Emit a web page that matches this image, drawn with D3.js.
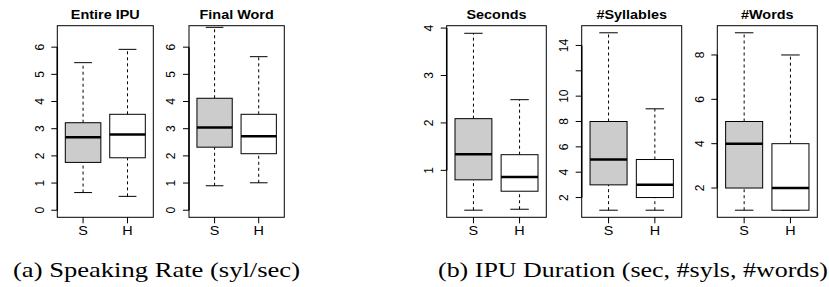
<!DOCTYPE html>
<html>

<head>
    <meta charset="UTF-8">
    <style>
        body {
            margin: 0;
            background-color: #fff;
        }

        .chart text {
            font-family: "Liberation Sans", Arial, sans-serif;
            fill: #000;
        }

        .chart .caption {
            font-family: "Liberation Serif", "Times New Roman", serif;
        }
    </style>
    <title>Boxplots</title>
</head>

<body>
    <svg class="chart" id="d3chart" width="829" height="287"></svg>

    <script src="https://d3js.org/d3.v7.min.js"></script>
    <script>
        // panels, left to right
        const panelTitles = ["Entire IPU", "Final Word", "Seconds", "#Syllables", "#Words"];
        const groups = ["S", "H"];

        // five-number boxes per group: [low whisker, Q1, median, Q3, high whisker]
        const entireS = [0.65, 1.76, 2.69, 3.22, 5.43];
        const entireH = [0.51, 1.93, 2.79, 3.53, 5.92];
        const finalS = [0.90, 2.32, 3.04, 4.12, 6.73];
        const finalH = [1.01, 2.08, 2.72, 3.53, 5.65];
        const secondsS = [0.16, 0.80, 1.34, 2.09, 3.89];
        const secondsH = [0.18, 0.56, 0.86, 1.33, 2.49];
        const syllablesS = [1, 3, 5, 8, 15];
        const syllablesH = [1, 2, 3, 5, 9];
        const wordsS = [1, 2, 4, 5, 9];
        const wordsH = [1, 1, 2, 4, 8];

        // y ticks and which of them carry a label
        const ticksRate = [0, 1, 2, 3, 4, 5, 6];
        const ticksSeconds = [1, 2, 3, 4];
        const ticksSyllables = [2, 4, 6, 8, 10, 12, 14];
        const labelsSyllables = [2, 4, 6, 8, 10, 14];
        const ticksWords = [2, 4, 6, 8];

        const captions = ["(a) Speaking Rate (syl/sec)", "(b) IPU Duration (sec, #syls, #words)"];

        const panels = [
            { title: panelTitles[0], boxes: [entireS, entireH], ticks: ticksRate, labels: ticksRate, domain: [-0.26, 6.79], left: 57.3, right: 153.3 },
            { title: panelTitles[1], boxes: [finalS, finalH], ticks: ticksRate, labels: ticksRate, domain: [-0.26, 6.79], left: 189, right: 284.3 },
            { title: panelTitles[2], boxes: [secondsS, secondsH], ticks: ticksSeconds, labels: ticksSeconds, domain: [0.01, 4.05], left: 446.7, right: 546.3 },
            { title: panelTitles[3], boxes: [syllablesS, syllablesH], ticks: ticksSyllables, labels: labelsSyllables, domain: [0.44, 15.56], left: 581.7, right: 681.7 },
            { title: panelTitles[4], boxes: [wordsS, wordsH], ticks: ticksWords, labels: ticksWords, domain: [0.68, 9.32], left: 717.3, right: 817.3 }
        ];

        const plotTop = 25.7, plotBottom = 217.3;
        const fills = ["#cccccc", "#ffffff"];
        const stretch = 1.2;   // the sans text in the picture is a bit wide

        const svg = d3.select("#d3chart");

        // widen a text element horizontally
        function widen(sel, factor) {
            sel.each(function () {
                const len = this.getComputedTextLength();
                d3.select(this)
                    .attr("textLength", len * factor)
                    .attr("lengthAdjust", "spacingAndGlyphs");
            });
        }

        panels.forEach(p => {
            const y = d3.scaleLinear().domain(p.domain).range([plotBottom, plotTop]);
            const x = d3.scaleLinear().domain([0.42, 2.58]).range([p.left, p.right]);
            const g = svg.append("g");

            // boxes
            p.boxes.forEach((b, i) => {
                const c = i + 1;
                const [lo, q1, med, q3, hi] = b;
                const bg = g.append("g");

                bg.append("line")
                    .attr("x1", x(c)).attr("x2", x(c))
                    .attr("y1", y(q3)).attr("y2", y(hi))
                    .attr("stroke", "#000").attr("stroke-dasharray", "3,3");
                bg.append("line")
                    .attr("x1", x(c)).attr("x2", x(c))
                    .attr("y1", y(lo)).attr("y2", y(q1))
                    .attr("stroke", "#000").attr("stroke-dasharray", "3,3");

                [lo, hi].forEach(v => {
                    bg.append("line")
                        .attr("x1", x(c - 0.2)).attr("x2", x(c + 0.2))
                        .attr("y1", y(v)).attr("y2", y(v))
                        .attr("stroke", "#000");
                });

                bg.append("rect")
                    .attr("x", x(c - 0.4))
                    .attr("y", y(q3))
                    .attr("width", x(c + 0.4) - x(c - 0.4))
                    .attr("height", y(q1) - y(q3))
                    .attr("fill", fills[i])
                    .attr("stroke", "#000");

                bg.append("line")
                    .attr("x1", x(c - 0.4)).attr("x2", x(c + 0.4))
                    .attr("y1", y(med)).attr("y2", y(med))
                    .attr("stroke", "#000").attr("stroke-width", 2.5);
            });

            // frame
            g.append("rect")
                .attr("x", p.left).attr("y", plotTop)
                .attr("width", p.right - p.left).attr("height", plotBottom - plotTop)
                .attr("fill", "none").attr("stroke", "#000");

            // y axis
            const yAxis = g.append("g");
            yAxis.append("line")
                .attr("x1", p.left).attr("x2", p.left)
                .attr("y1", y(d3.min(p.ticks))).attr("y2", y(d3.max(p.ticks)))
                .attr("stroke", "#000").attr("stroke-width", 1.5);
            yAxis.selectAll(".tick")
                .data(p.ticks)
                .join("line")
                .attr("class", "tick")
                .attr("x1", p.left - 6).attr("x2", p.left)
                .attr("y1", d => y(d)).attr("y2", d => y(d))
                .attr("stroke", "#000");
            yAxis.selectAll("text")
                .data(p.labels)
                .join("text")
                .attr("transform", d => `translate(${p.left - 13.6},${y(d)}) rotate(-90)`)
                .attr("text-anchor", "middle")
                .style("font-size", "12px")
                .text(d => d);

            // x axis
            const xAxis = g.append("g");
            xAxis.selectAll("line")
                .data(groups)
                .join("line")
                .attr("x1", (d, i) => x(i + 1)).attr("x2", (d, i) => x(i + 1))
                .attr("y1", plotBottom).attr("y2", plotBottom + 6)
                .attr("stroke", "#000");
            xAxis.selectAll("text")
                .data(groups)
                .join("text")
                .attr("x", (d, i) => x(i + 1))
                .attr("y", 234.7)
                .attr("text-anchor", "middle")
                .style("font-size", "12px")
                .text(d => d)
                .call(widen, stretch);

            // title
            g.append("text")
                .attr("x", (p.left + p.right) / 2)
                .attr("y", 19)
                .attr("text-anchor", "middle")
                .style("font-size", "12px")
                .style("font-weight", "bold")
                .text(p.title)
                .call(widen, stretch);
        });

        // sub-figure captions
        const captionX = [13, 438];
        const captionW = [287, 390];
        svg.selectAll(".caption")
            .data(captions)
            .join("text")
            .attr("class", "caption")
            .attr("x", (d, i) => captionX[i])
            .attr("y", 277)
            .style("font-size", "22px")
            .attr("textLength", (d, i) => captionW[i])
            .attr("lengthAdjust", "spacingAndGlyphs")
            .text(d => d);
    </script>
</body>

</html>
